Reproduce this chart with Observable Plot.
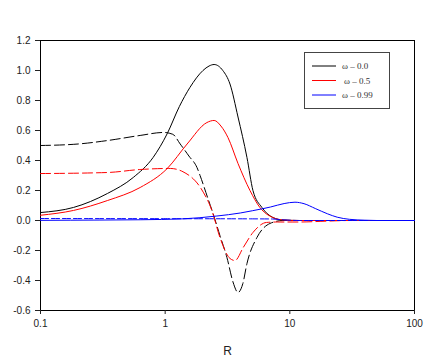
<!DOCTYPE html>
<html>
<head>
<meta charset="utf-8">
<script src="https://cdn.jsdelivr.net/npm/d3@7"></script>
<script src="https://cdn.jsdelivr.net/npm/@observablehq/plot@0.6"></script>
<style>
  html, body { margin: 0; padding: 0; background: #fff; }
  #wrap { position: relative; width: 436px; height: 358px; }
  #legend { position: absolute; left: 304px; top: 52px; }
</style>
</head>
<body>
<div id="wrap"></div>
<script>
// ---- data ----
const xTicks = [0.1, 1, 10, 100];
const yTicks = [-0.6, -0.4, -0.2, 0, 0.2, 0.4, 0.6, 0.8, 1.0, 1.2];

const seriesNames = ["ω – 0.0", "ω – 0.5", "ω – 0.99"];
const seriesColors = ["#000000", "#ff0000", "#0000ff"];

// omega = 0.0 (black)
const blackSolidR = [0.1, 0.184, 0.344, 0.555, 0.8, 1.04, 1.3, 1.58, 2.01, 2.25, 2.47, 2.9, 3.31, 3.84, 4.53, 5.06, 5.97, 7.31, 8.8, 12, 20, 40, 100];
const blackSolidV = [0.053, 0.087, 0.18, 0.287, 0.42, 0.58, 0.76, 0.887, 1.0, 1.03, 1.04, 1.0, 0.91, 0.69, 0.42, 0.2, 0.087, 0.02, 0.003, 0, 0, 0, 0];
const blackDashR = [0.1, 0.2, 0.344, 0.63, 0.97, 1.15, 1.32, 1.55, 1.8, 1.905, 2.19, 2.42, 2.75, 3.13, 3.5, 3.84, 4.2, 4.53, 5.45, 6.92, 8.8, 12, 100];
const blackDashV = [0.5, 0.51, 0.533, 0.567, 0.587, 0.575, 0.51, 0.43, 0.353, 0.3, 0.153, 0.047, -0.1, -0.247, -0.41, -0.48, -0.42, -0.287, -0.113, -0.02, 0, 0, 0];

// omega = 0.5 (red)
const redSolidR = [0.1, 0.184, 0.344, 0.63, 1.04, 1.5, 2.16, 2.47, 2.8, 3.19, 3.84, 4.79, 5.75, 7.31, 9, 12, 100];
const redSolidV = [0.035, 0.067, 0.133, 0.22, 0.347, 0.51, 0.653, 0.667, 0.63, 0.553, 0.38, 0.2, 0.087, 0.02, 0.003, 0, 0];
const redDashR = [0.1, 0.344, 0.63, 1.1, 1.39, 1.95, 2.37, 2.75, 3.31, 3.63, 4.23, 5.06, 6.5, 8, 12, 20, 30, 100];
const redDashV = [0.313, 0.32, 0.34, 0.347, 0.325, 0.21, 0.067, -0.113, -0.253, -0.267, -0.18, -0.08, -0.013, -0.01, -0.01, -0.004, 0, 0];

// omega = 0.99 (blue)
const blueSolidR = [0.1, 0.3, 0.63, 1.39, 2.6, 4, 5, 7, 9, 11, 13, 16, 20, 24, 30, 40, 50, 100];
const blueSolidV = [0.001, 0.003, 0.005, 0.011, 0.03, 0.05, 0.065, 0.09, 0.113, 0.122, 0.112, 0.08, 0.045, 0.022, 0.008, 0.002, 0, 0];
const blueDashR = [0.1, 1, 5, 7.3, 9, 12, 100];
const blueDashV = [0.013, 0.012, 0.011, 0.01, 0.004, 0, 0];

// ---- build tables ----
const toRows = (R, V) => R.map((r, i) => ({r, v: V[i]}));
const lines = [
  {rows: toRows(blackSolidR, blackSolidV), color: seriesColors[0], dash: null},
  {rows: toRows(blackDashR, blackDashV), color: seriesColors[0], dash: "10,4"},
  {rows: toRows(redSolidR, redSolidV), color: seriesColors[1], dash: null},
  {rows: toRows(redDashR, redDashV), color: seriesColors[1], dash: "10,4"},
  {rows: toRows(blueSolidR, blueSolidV), color: seriesColors[2], dash: null},
  {rows: toRows(blueDashR, blueDashV), color: seriesColors[2], dash: "8,3"}
];

const chart = Plot.plot({
  width: 436,
  height: 358,
  marginLeft: 40,
  marginRight: 22,
  marginTop: 40,
  marginBottom: 48,
  style: {fontFamily: "'Liberation Sans', Arial, sans-serif", fontSize: "10px", color: "#222", background: "#fff"},
  x: {type: "log", domain: [0.1, 100]},
  y: {domain: [-0.6, 1.2]},
  marks: [
    Plot.frame({stroke: "#000"}),
    Plot.axisX(xTicks, {tickSize: 4, tickPadding: 5, tickFormat: d => String(d), label: "R", labelAnchor: "center", labelArrow: "none", labelOffset: 44, fontSize: 10}),
    Plot.axisY(yTicks, {tickSize: 5, tickPadding: 5, tickFormat: d => d.toFixed(1), label: null}),
    ...lines.map(l => Plot.line(l.rows, {x: "r", y: "v", stroke: l.color, strokeWidth: 1, strokeDasharray: l.dash, curve: "monotone-x"}))
  ]
});
chart.querySelectorAll("g[aria-label='x-axis label'] text").forEach(t => t.style.fontSize = "12px");
document.getElementById("wrap").appendChild(chart);

// ---- legend ----
const lg = d3.select("#wrap").append("svg").attr("id", "legend").attr("width", 86).attr("height", 57);
lg.append("rect").attr("x", 0.5).attr("y", 0.5).attr("width", 85).attr("height", 56).attr("fill", "#fff").attr("stroke", "#444");
seriesNames.forEach((name, i) => {
  const y = 14 + i * 14.5;
  lg.append("line").attr("x1", 8).attr("x2", 32).attr("y1", y).attr("y2", y).attr("stroke", seriesColors[i]).attr("stroke-width", 1);
  lg.append("text").attr("x", i === 1 ? 40 : 38).attr("y", y).attr("dy", "0.35em")
    .attr("font-family", "'Liberation Serif', 'Times New Roman', serif").attr("font-size", 9).attr("fill", "#333").text(name);
});
</script>
</body>
</html>
